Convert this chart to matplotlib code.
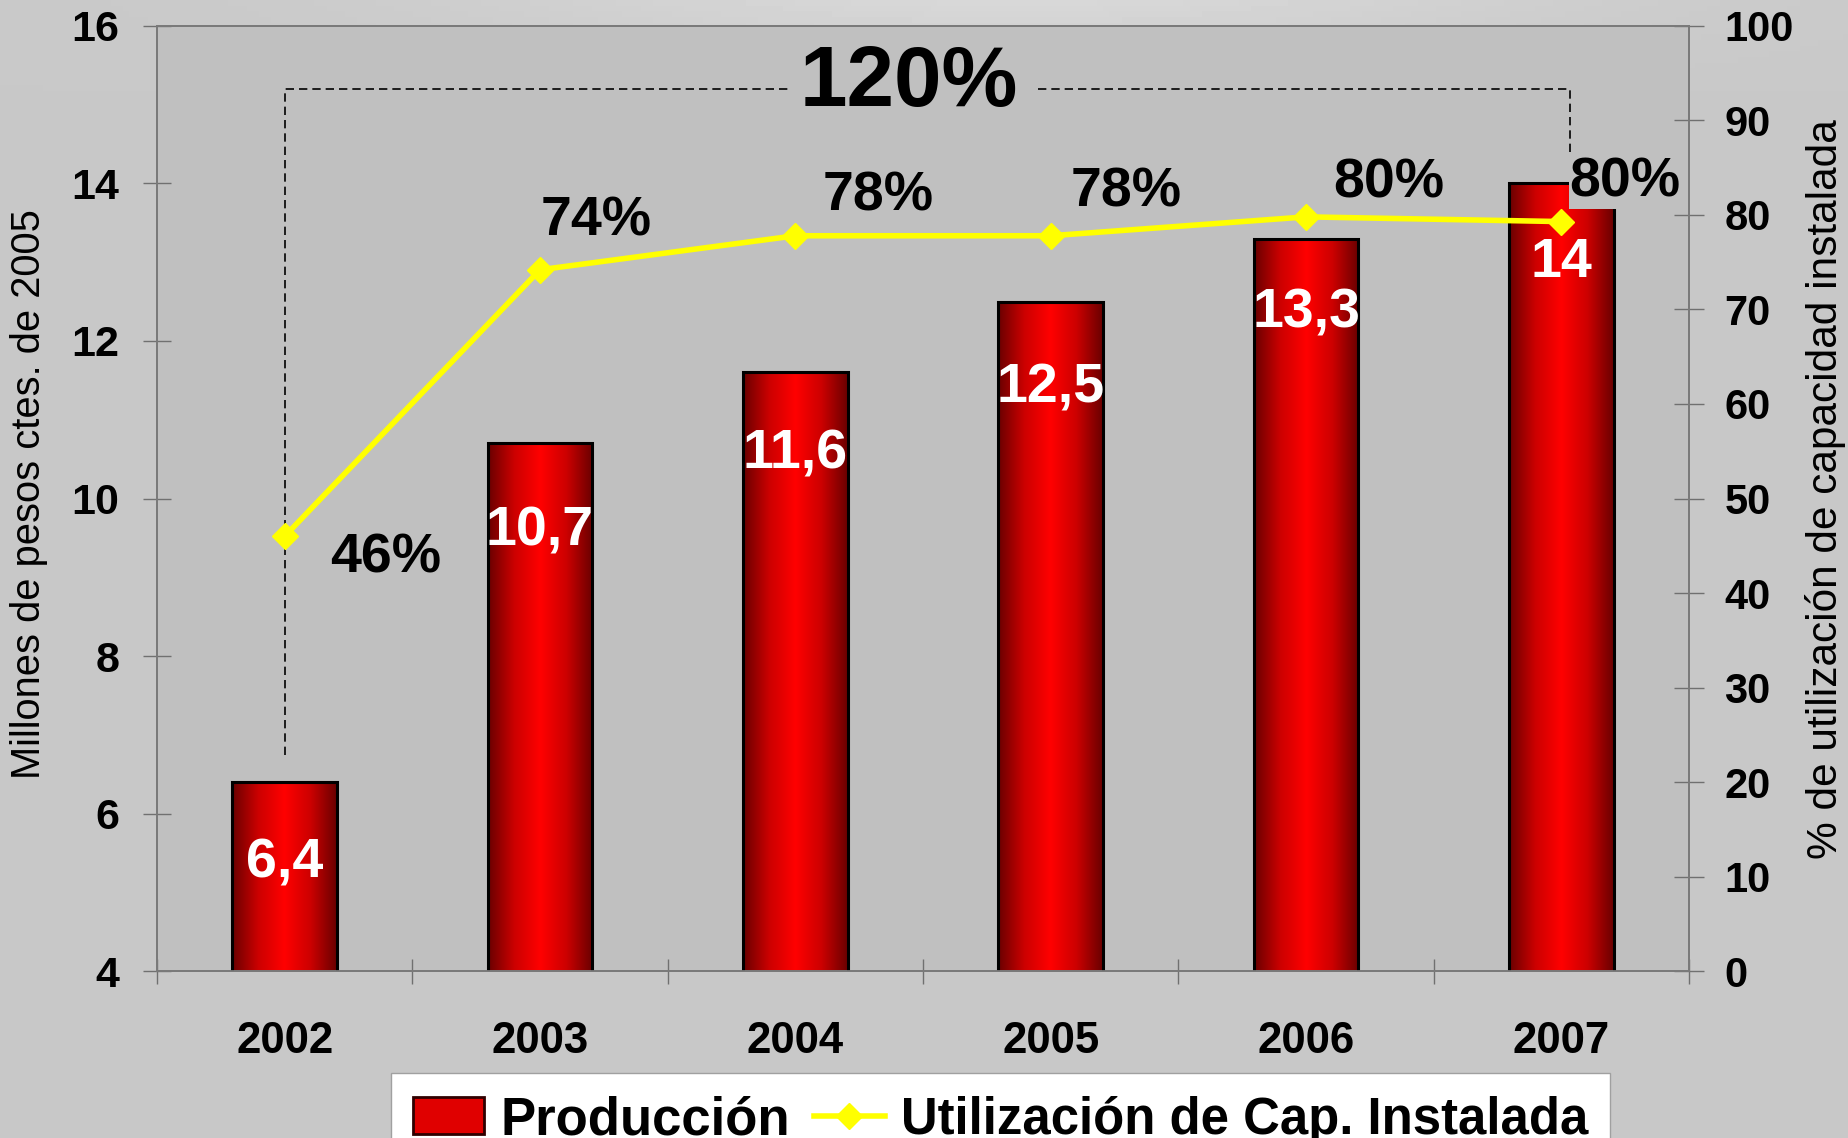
import matplotlib
matplotlib.use('Agg')
import matplotlib.pyplot as plt
import numpy as np
import matplotlib.lines as mlines
import matplotlib.patches as mpatches
from matplotlib.colors import LinearSegmentedColormap

plt.rcParams['font.family'] = ['Liberation Sans', 'DejaVu Sans']

# data
years = ['2002', '2003', '2004', '2005', '2006', '2007']
produccion = [6.4, 10.7, 11.6, 12.5, 13.3, 14.0]
produccion_lbl = ['6,4', '10,7', '11,6', '12,5', '13,3', '14']
utilizacion = [46.0, 74.2, 77.8, 77.8, 79.8, 79.3]
utilizacion_lbl = ['46%', '74%', '78%', '78%', '80%', '80%']
crecimiento_lbl = '120%'

# label positions
prod_lbl_y = [5.19, 9.40, 10.38, 11.22, 12.17, 12.81]
util_lbl_x = [0.895, 1.722, 2.826, 3.797, 4.826, 5.75]
util_lbl_y = [42.2, 77.8, 80.5, 80.9, 81.8, 82.0]

x = np.arange(len(years)) + 0.5

fig = plt.figure(figsize=(18.49, 11.38), dpi=100)
fig.patch.set_facecolor('#c8c8c8')

# soft background gradient
bg = fig.add_axes([0, 0, 1, 1], zorder=-10)
yy, xx = np.mgrid[0:1:200j, 0:1:300j]
shade = 0.785 + 0.06 * np.exp(-((xx - 0.55) / 0.3) ** 2) * np.clip(1 - yy / 0.08, 0, 1)
bg.imshow(shade, cmap='gray', vmin=0, vmax=1, aspect='auto', extent=[0, 1, 0, 1], origin='upper')
bg.axis('off')

ax = fig.add_axes([0.0849, 0.1467, 0.8286, 0.8305])
ax.set_facecolor('#c0c0c0')
ymin, ymax = 4, 16

# bars with horizontal red gradient
bars = ax.bar(x, produccion, width=0.41, facecolor='none', edgecolor='black', linewidth=2.2, zorder=3)
cmap = LinearSegmentedColormap.from_list('barra', ['#690000', '#cc0000', '#ff0000', '#cc0000', '#690000'])
grad = np.linspace(0, 1, 256).reshape(1, -1)
for b in bars:
    x0 = b.get_x()
    im = ax.imshow(grad, extent=[x0, x0 + b.get_width(), ymin, b.get_height()], aspect='auto',
                   cmap=cmap, zorder=2, interpolation='bilinear')
    im.set_clip_path(b)

for i in range(len(years)):
    ax.text(x[i], prod_lbl_y[i], produccion_lbl[i], color='white', fontsize=40, fontweight='bold',
            ha='center', va='baseline', zorder=5)

ax.set_xlim(0, 6)
ax.set_ylim(ymin, ymax)
ax.set_yticks(np.arange(4, 17, 2))
ax.set_xticks(np.arange(7), [''] * 7)
ax.set_xticks(x, years, minor=True)
ax.tick_params(axis='y', direction='inout', length=20, width=1, color='#707070', pad=17, labelsize=31)
ax.tick_params(axis='x', which='major', direction='inout', length=18, width=1, color='#707070')
ax.tick_params(axis='x', which='minor', length=0, pad=36, labelsize=31.5)
for lbl in ax.get_yticklabels() + ax.get_xticklabels(minor=True):
    lbl.set_fontweight('bold')
for s in ax.spines.values():
    s.set_color('#7a7a7a')
    s.set_linewidth(1.3)

ax.set_ylabel('Millones de pesos ctes. de 2005', fontsize=28.7)
ax.yaxis.set_label_coords(-0.0711, 0.505)

# right axis: utilization
ax2 = ax.twinx()
ax2.set_ylim(0, 100)
ax2.set_yticks(np.arange(0, 101, 10))
ax2.tick_params(axis='y', direction='inout', length=21, width=1, color='#707070', pad=15, labelsize=30)
for lbl in ax2.get_yticklabels():
    lbl.set_fontweight('bold')
for s in ax2.spines.values():
    s.set_color('#7a7a7a')
    s.set_linewidth(1.3)
ax2.set_ylabel('% de utilización de capacidad instalada', fontsize=30.5)
ax2.yaxis.set_label_coords(1.076, 0.51)

ax2.plot(x, utilizacion, color='#ffff00', linewidth=4, marker='D', markersize=13, zorder=6)

# dashed bracket with the growth label
ax2.plot([0.5, 0.5, 2.48], [22.9, 93.3, 93.3], color='black', linewidth=1.2, linestyle=(0, (5, 3)), zorder=2)
ax2.plot([3.45, 5.535, 5.535], [93.3, 93.3, 85.3], color='black', linewidth=1.2, linestyle=(0, (5, 3)), zorder=2)
ax2.text(2.946, 91.5, crecimiento_lbl, fontsize=61.5, fontweight='bold', ha='center', va='baseline')

for i in range(len(years)):
    kw = {}
    if i == len(years) - 1:
        kw['bbox'] = dict(boxstyle='square,pad=0.02', facecolor='#c0c0c0', edgecolor='none')
    ax2.text(util_lbl_x[i], util_lbl_y[i], utilizacion_lbl[i], fontsize=40, fontweight='bold',
             ha='center', va='baseline', zorder=3, **kw)

# legend
prod_handle = mpatches.Patch(facecolor='#e00000', edgecolor='#300000', linewidth=2, label='Producción')
util_handle = mlines.Line2D([], [], color='#ffff00', linewidth=4, marker='D', markersize=13,
                            label='Utilización de Cap. Instalada')
leg = fig.legend(handles=[prod_handle, util_handle], loc='upper left', bbox_to_anchor=(0.2115, 0.0571),
                 ncol=2, prop=dict(weight='bold', size=38), frameon=True, fancybox=False,
                 edgecolor='#a0a0a0', facecolor='white', framealpha=1, borderpad=0.42,
                 handlelength=1.35, handletextpad=0.3, columnspacing=0.45, borderaxespad=0)
leg.get_texts()[1].set_fontsize(36.6)

fig.savefig('out.png', dpi=100, facecolor=fig.get_facecolor())
